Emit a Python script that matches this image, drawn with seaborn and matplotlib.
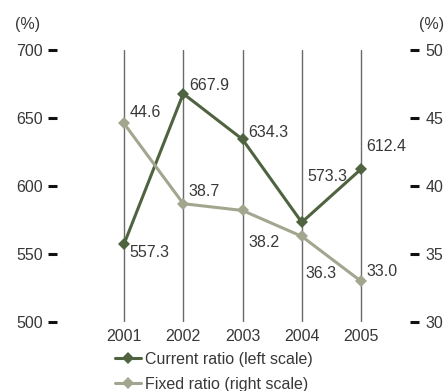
import matplotlib
matplotlib.use("Agg")
import matplotlib.pyplot as plt
import seaborn as sns
import pandas as pd
from matplotlib.lines import Line2D

years = [2001, 2002, 2003, 2004, 2005]
current_ratio = [557.3, 667.9, 634.3, 573.3, 612.4]
fixed_ratio = [44.6, 38.7, 38.2, 36.3, 33.0]
left_ticks = [500, 550, 600, 650, 700]
right_ticks = [30, 35, 40, 45, 50]
series_names = ["Current ratio (left scale)", "Fixed ratio (right scale)"]

# label offsets in points (dx, dy) for each value
current_offsets = [(4, -6), (4, 6), (4, 5), (4, 33), (4, 16)]
fixed_offsets = [(4, 8), (4, 9), (4, -23), (3, -27), (4, 7)]

DARK = "#4f6340"
LIGHT = "#a2a68f"
TEXT = "#383838"
FS = 11.5

sns.set_theme(style="white")
plt.rcParams["font.family"] = ["Liberation Sans", "DejaVu Sans"]
plt.rcParams["text.color"] = TEXT

fig = plt.figure(figsize=(4.46, 3.91), dpi=100)
ax = fig.add_axes([57 / 446, 1 - 322 / 391, (410 - 57) / 446, (322 - 50) / 391])
ax2 = ax.twinx()

df = pd.DataFrame({"year": years, "current": current_ratio, "fixed": fixed_ratio})

sns.lineplot(data=df, x="year", y="current", ax=ax, color=DARK, marker="D",
             markersize=6.5, linewidth=2.2, markeredgewidth=0, zorder=3)
sns.lineplot(data=df, x="year", y="fixed", ax=ax2, color=LIGHT, marker="D",
             markersize=6.5, linewidth=2.2, markeredgewidth=0, zorder=3)

ax.set_xlim(1999.869, 2005.827)
ax.set_ylim(500, 700)
ax2.set_ylim(30, 50)
ax.set_yticks(left_ticks)
ax2.set_yticks(right_ticks)
ax.set_xticks(years)
ax.set_xticklabels([str(y) for y in years])
ax.set_xlabel("")
ax.set_ylabel("")
ax2.set_ylabel("")

for a in (ax, ax2):
    for s in a.spines.values():
        s.set_visible(False)
    a.set_facecolor("none")

ax.grid(axis="x", color="#6a6a6a", linewidth=1.0)
ax.grid(axis="y", visible=False)
ax2.grid(False)
ax.set_axisbelow(True)

ax.tick_params(axis="x", length=0, pad=5, labelsize=FS, labelcolor=TEXT)
ax.tick_params(axis="y", direction="out", length=6.2, width=2.2, color="#111111",
               pad=4, labelsize=FS, labelcolor=TEXT, left=True)
ax2.tick_params(axis="y", direction="out", length=6.2, width=2.2, color="#111111",
                pad=5, labelsize=FS, labelcolor=TEXT, right=True)

for x, y, (dx, dy) in zip(years, current_ratio, current_offsets):
    ax.annotate(f"{y:.1f}", (x, y), xytext=(dx, dy), textcoords="offset points",
                ha="left", va="center", fontsize=FS, color=TEXT, zorder=5)
for x, y, (dx, dy) in zip(years, fixed_ratio, fixed_offsets):
    ax2.annotate(f"{y:.1f}", (x, y), xytext=(dx, dy), textcoords="offset points",
                 ha="left", va="center", fontsize=FS, color=TEXT, zorder=5)

fig.text(15 / 446, 1 - 25 / 391, "(%)", ha="left", va="center", fontsize=FS, color=TEXT)
fig.text(419 / 446, 1 - 25 / 391, "(%)", ha="left", va="center", fontsize=FS, color=TEXT)

handles = [
    Line2D([], [], color=DARK, marker="D", markersize=6.5, linewidth=2.2, markeredgewidth=0),
    Line2D([], [], color=LIGHT, marker="D", markersize=6.5, linewidth=2.2, markeredgewidth=0),
]
fig.legend(handles, series_names, loc="upper left", bbox_to_anchor=(115 / 446, 1 - 352 / 391),
           frameon=False, fontsize=FS, handlelength=1.6, handletextpad=0.3,
           labelspacing=0.6, borderpad=0, borderaxespad=0)

fig.savefig("out.png", dpi=100)
